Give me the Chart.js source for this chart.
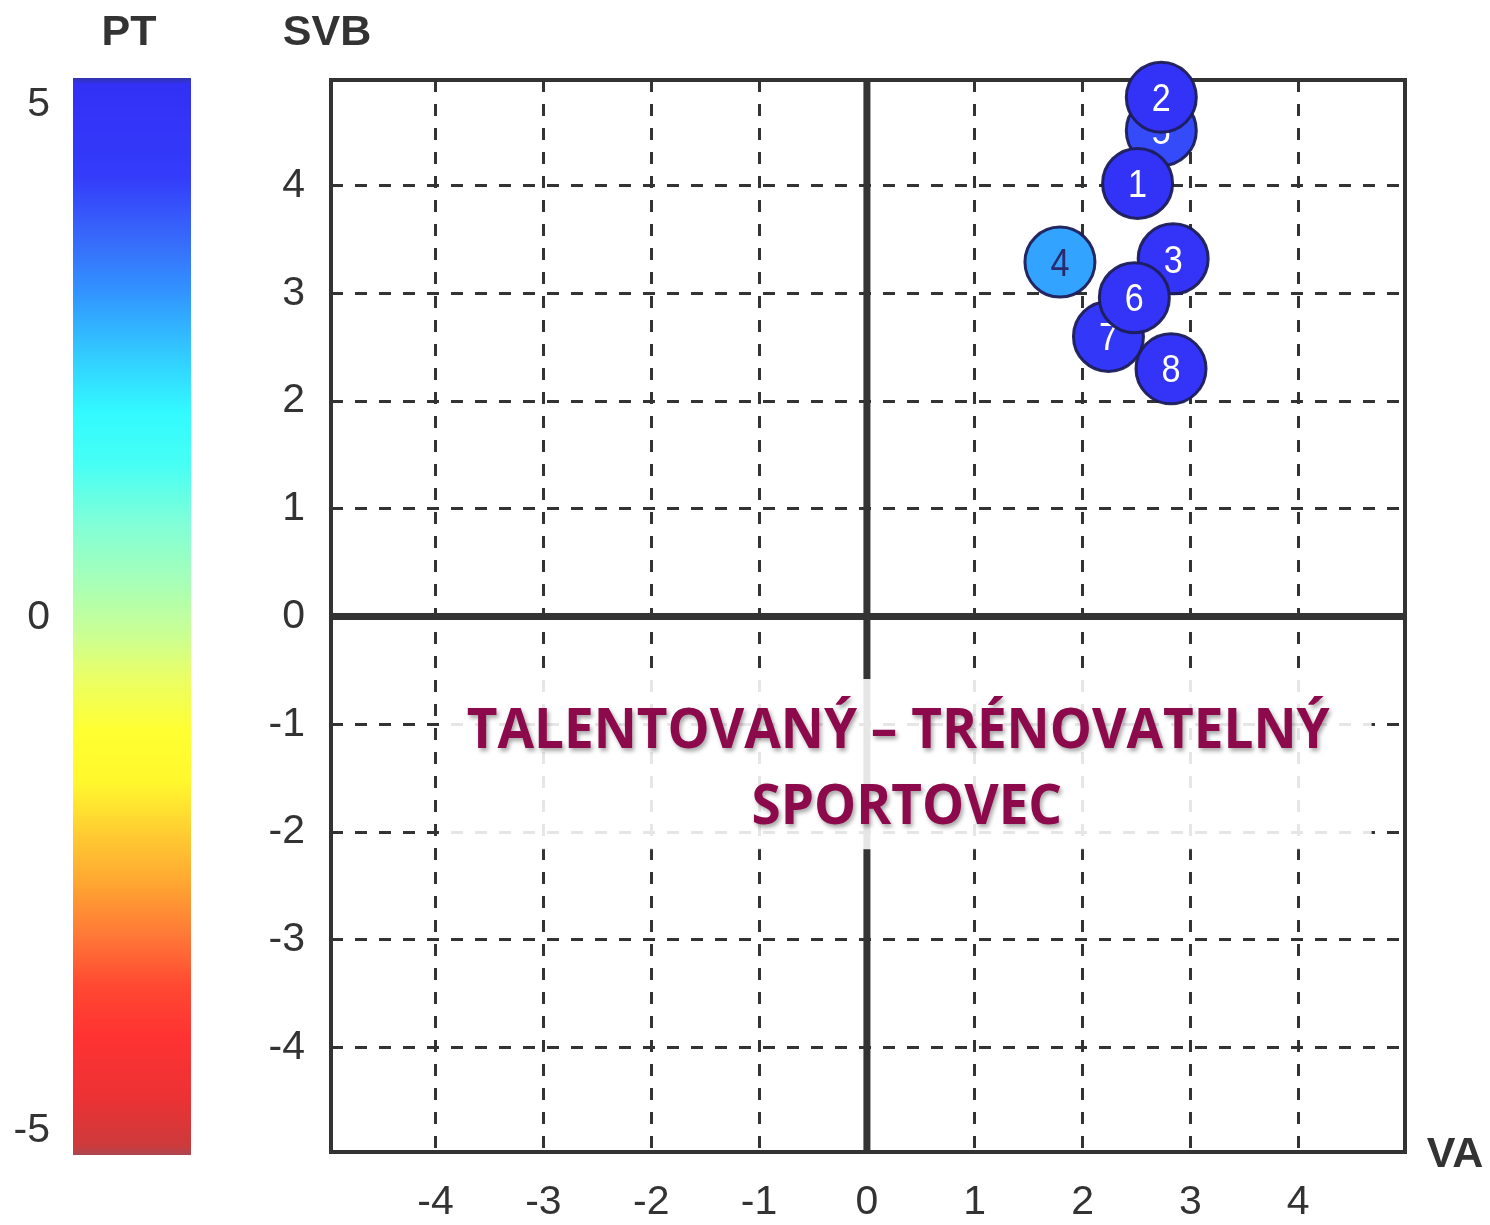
<!DOCTYPE html>
<html>
<head>
<meta charset="utf-8">
<script src="https://cdn.jsdelivr.net/npm/chart.js@4/dist/chart.umd.min.js"></script>
<style>
html,body{margin:0;padding:0;background:#fff;}
#wrap{position:relative;width:1490px;height:1225px;overflow:hidden;}
#cb{position:absolute;left:0;top:0;width:240px;height:1225px;}
#main{position:absolute;left:240px;top:0;width:1250px;height:1225px;}
</style>
</head>
<body>
<div id="wrap">
  <div id="cb"><canvas id="cbc"></canvas></div>
  <div id="main"><canvas id="mc"></canvas></div>
</div>
<script>
// ---------------- DATA ----------------
const athleteLabels = ['1', '2', '3', '4', '5', '6', '7', '8'];
const vaValues  = [2.51, 2.73, 2.84, 1.79, 2.73, 2.48, 2.24, 2.82];   // x (VA)
const svbValues = [4.02, 4.82, 3.32, 3.29, 4.51, 2.96, 2.60, 2.30];   // y (SVB)
const ptValues  = [5.0, 5.0, 4.9, 3.0, 4.1, 4.9, 4.6, 4.9];           // colour (PT)
const drawOrder = ['5', '7', '1', '2', '3', '4', '6', '8'];           // bottom -> top
const axisTicks = [-4, -3, -2, -1, 0, 1, 2, 3, 4];
const colorbarTicks = [-5, 0, 5];
const xTitle = 'VA';
const yTitle = 'SVB';
const colorbarTitle = 'PT';
const zoneLines = ['TALENTOVANÝ – TRÉNOVATELNÝ', 'SPORTOVEC'];

// ---------------- STYLE ----------------
const X_MIN = -4.97, X_MAX = 4.99, Y_MIN = -4.97, Y_MAX = 4.98;
const CB_MIN = -5.24, CB_MAX = 5.26;
const INK = '#333333';
const TICK_FONT = {family: "'Liberation Sans', Arial, sans-serif", size: 41, weight: 'normal'};
const TITLE_FONT = "bold 43px 'Liberation Sans', Arial, sans-serif";
const colorStops = [
  [5.26, [52, 52, 170]],
  [5.2,  [50, 48, 245]],
  [4.3,  [52, 60, 250]],
  [3.7,  [55, 105, 250]],
  [3.2,  [50, 145, 255]],
  [2.6,  [50, 200, 255]],
  [2.0,  [50, 250, 255]],
  [1.5,  [70, 255, 245]],
  [0.9,  [130, 255, 215]],
  [0.3,  [170, 255, 180]],
  [-0.2, [205, 255, 145]],
  [-0.6, [235, 255, 100]],
  [-1.1, [255, 255, 50]],
  [-1.6, [255, 248, 45]],
  [-2.1, [255, 205, 50]],
  [-2.6, [255, 165, 50]],
  [-3.1, [255, 120, 55]],
  [-3.6, [255, 72, 50]],
  [-4.1, [255, 50, 50]],
  [-4.7, [235, 50, 52]],
  [-5.15,[205, 58, 60]],
  [-5.24,[170, 70, 80]]
];
function rgb(c) { return 'rgb(' + c.map(Math.round).join(',') + ')'; }
function ptColor(v) {
  if (v >= colorStops[1][0]) return rgb(colorStops[1][1]);
  for (let i = 0; i < colorStops.length - 1; i++) {
    const [a, ca] = colorStops[i], [b, cb] = colorStops[i + 1];
    if (v <= a && v >= b) {
      const t = (a - v) / (a - b);
      return rgb(ca.map((c, k) => c + (cb[k] - c) * t));
    }
  }
  return rgb(colorStops[colorStops.length - 1][1]);
}

// ---------------- COLOUR BAR ----------------
const cbPlugin = {
  id: 'cbTitle',
  afterDraw(chart) {
    const {ctx, chartArea} = chart;
    ctx.save();
    ctx.font = TITLE_FONT;
    ctx.fillStyle = INK;
    ctx.textAlign = 'center';
    ctx.textBaseline = 'middle';
    ctx.fillText(colorbarTitle, (chartArea.left + chartArea.right) / 2 - 3, chartArea.top - 45);
    ctx.restore();
  }
};
new Chart(document.getElementById('cbc'), {
  type: 'bar',
  data: {
    labels: [colorbarTitle],
    datasets: [{
      data: [[CB_MIN, CB_MAX]],
      borderWidth: 0,
      barPercentage: 1,
      categoryPercentage: 1,
      backgroundColor(c) {
        const ch = c.chart;
        if (!ch.chartArea) return null;
        const ys = ch.scales.y;
        const top = ys.getPixelForValue(CB_MAX), bot = ys.getPixelForValue(CB_MIN);
        const g = ch.ctx.createLinearGradient(0, top, 0, bot);
        colorStops.forEach(([v, col]) => g.addColorStop(Math.min(1, Math.max(0, (CB_MAX - v) / (CB_MAX - CB_MIN))), rgb(col)));
        return g;
      }
    }]
  },
  options: {
    responsive: true,
    maintainAspectRatio: false,
    animation: false,
    events: [],
    layout: {padding: {left: 0, top: 78, right: 49, bottom: 70}},
    plugins: {legend: {display: false}, tooltip: {enabled: false}},
    scales: {
      x: {display: false},
      y: {
        min: CB_MIN, max: CB_MAX,
        afterBuildTicks(s) { s.ticks = colorbarTicks.map(v => ({value: v})); },
        afterFit(s) { s.width = 73; },
        grid: {display: false, drawTicks: false},
        border: {display: false},
        ticks: {padding: 23, color: INK, font: TICK_FONT, callback: v => String(v)}
      }
    }
  },
  plugins: [cbPlugin]
});

// ---------------- MAIN SCATTER ----------------
const zoneBox = {x0: -3.96, x1: 4.68, y0: -0.58, y1: -2.16};
const zoneTextPos = [{x: 0.29, y: -1.03, w: 863}, {x: 0.37, y: -1.74, w: 317}];

const datasets = drawOrder.map((lab, k) => {
  const i = athleteLabels.indexOf(lab);
  return {
    label: lab,
    data: [{x: vaValues[i], y: svbValues[i]}],
    pt: ptValues[i],
    radius: 35,
    hoverRadius: 0,
    borderWidth: 3,
    borderColor: 'rgba(30,30,90,0.95)',
    backgroundColor: ptColor(ptValues[i]),
    order: 100 - k,
    clip: false
  };
});

const mainPlugin = {
  id: 'mainDeco',
  beforeDatasetsDraw(chart) {
    const {ctx, chartArea, scales} = chart;
    const xs = scales.x, ys = scales.y;
    ctx.save();
    // zero axes
    ctx.strokeStyle = INK;
    ctx.lineWidth = 7;
    ctx.beginPath();
    const x0 = xs.getPixelForValue(0), y0 = ys.getPixelForValue(0);
    ctx.moveTo(x0, chartArea.top); ctx.lineTo(x0, chartArea.bottom);
    ctx.moveTo(chartArea.left, y0); ctx.lineTo(chartArea.right, y0);
    ctx.stroke();
    // frame
    ctx.lineWidth = 4;
    ctx.strokeRect(chartArea.left, chartArea.top, chartArea.right - chartArea.left, chartArea.bottom - chartArea.top);
    // zone box
    const bx0 = xs.getPixelForValue(zoneBox.x0), bx1 = xs.getPixelForValue(zoneBox.x1);
    const by0 = ys.getPixelForValue(zoneBox.y0), by1 = ys.getPixelForValue(zoneBox.y1);
    ctx.fillStyle = 'rgba(255,255,255,0.88)';
    ctx.fillRect(bx0, by0, bx1 - bx0, by1 - by0);
    // zone text
    const size = 56;
    ctx.font = "bold " + size + "px 'Open Sans', Lato, sans-serif";
    ctx.fillStyle = '#8c0a4b';
    ctx.textAlign = 'center';
    ctx.textBaseline = 'alphabetic';
    ctx.shadowColor = 'rgba(0,0,0,0.35)';
    ctx.shadowOffsetX = 2;
    ctx.shadowOffsetY = 3;
    ctx.shadowBlur = 4;
    const w0 = ctx.measureText(zoneLines[0]).width;
    const sx = zoneTextPos[0].w / w0;
    zoneLines.forEach((line, i) => {
      const p = zoneTextPos[i];
      const px = xs.getPixelForValue(p.x), py = ys.getPixelForValue(p.y);
      ctx.save();
      ctx.translate(px, py + size * 0.36);
      ctx.scale(sx, 1);
      ctx.fillText(line, 0, 0);
      ctx.restore();
    });
    ctx.restore();
  },
  afterDatasetDraw(chart, args) {
    const {ctx} = chart;
    const ds = chart.data.datasets[args.index];
    const el = args.meta.data[0];
    if (!el) return;
    ctx.save();
    ctx.font = "38px 'Liberation Sans', Arial, sans-serif";
    ctx.fillStyle = ds.pt < 3.5 ? '#2a2a70' : '#ffffff';
    ctx.textAlign = 'center';
    ctx.textBaseline = 'alphabetic';
    ctx.translate(el.x, el.y + 38 * 0.36);
    ctx.scale(0.9, 1);
    ctx.fillText(ds.label, 0, 0);
    ctx.restore();
  },
  afterDraw(chart) {
    const {ctx, chartArea} = chart;
    ctx.save();
    ctx.font = TITLE_FONT;
    ctx.fillStyle = INK;
    ctx.textAlign = 'center';
    ctx.textBaseline = 'middle';
    ctx.fillText(yTitle, chartArea.left - 4, chartArea.top - 47);
    ctx.fillText(xTitle, chartArea.right + 50, chartArea.bottom + 3);
    ctx.restore();
  }
};

const gridCommon = {
  drawTicks: false,
  lineWidth: 3,
  color: c => (c.tick && c.tick.value === 0) ? 'rgba(0,0,0,0)' : INK
};

new Chart(document.getElementById('mc'), {
  type: 'bubble',
  data: {datasets},
  options: {
    responsive: true,
    maintainAspectRatio: false,
    animation: false,
    events: [],
    layout: {padding: {left: 0, top: 80, right: 85, bottom: 0}},
    plugins: {legend: {display: false}, tooltip: {enabled: false}},
    scales: {
      x: {
        type: 'linear', min: X_MIN, max: X_MAX,
        afterBuildTicks(s) { s.ticks = axisTicks.map(v => ({value: v})); },
        afterFit(s) { s.height = 73; },
        grid: gridCommon,
        border: {display: false, dash: [12, 12]},
        ticks: {padding: 26, color: INK, font: TICK_FONT, callback: v => String(v)}
      },
      y: {
        type: 'linear', min: Y_MIN, max: Y_MAX,
        afterBuildTicks(s) { s.ticks = axisTicks.map(v => ({value: v})); },
        afterFit(s) { s.width = 91; },
        grid: gridCommon,
        border: {display: false, dash: [12, 12]},
        ticks: {padding: 26, color: INK, font: TICK_FONT, callback: v => String(v)}
      }
    }
  },
  plugins: [mainPlugin]
});
</script>
</body>
</html>
